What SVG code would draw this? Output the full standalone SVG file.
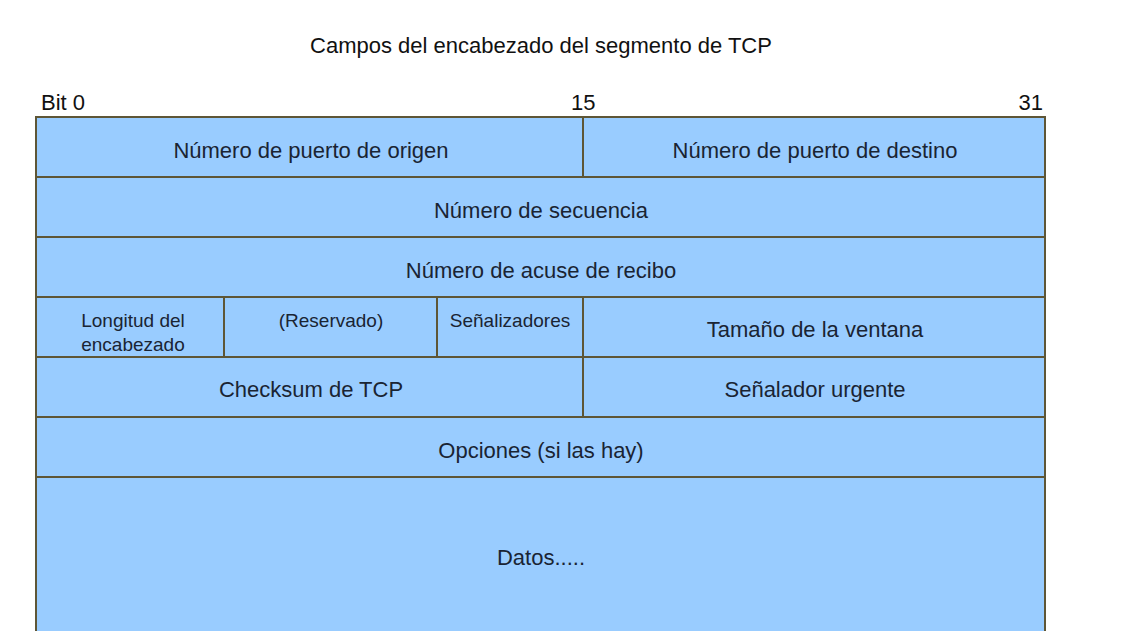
<svg xmlns="http://www.w3.org/2000/svg" width="1128" height="631" viewBox="0 0 1128 631">
<style>
.c{fill:#99ccff;stroke:#5e5636;stroke-width:2}
.t{font-family:"Liberation Sans",Arial,sans-serif;font-size:22px;fill:#1a2433;text-anchor:middle}
.s{font-family:"Liberation Sans",Arial,sans-serif;font-size:19px;fill:#1a2433;text-anchor:middle}
.h{font-family:"Liberation Sans",Arial,sans-serif;font-size:22px;fill:#111}
</style>
<rect width="1128" height="631" fill="#fff"/>
<text class="h" x="541" y="53" text-anchor="middle">Campos del encabezado del segmento de TCP</text>
<text class="h" x="41" y="110">Bit 0</text>
<text class="h" x="571" y="110">15</text>
<text class="h" x="1043" y="110" text-anchor="end">31</text>
<g id="src"><rect class="c" x="36" y="117" width="547" height="60"/><text class="t" x="311" y="158">Número de puerto de origen</text></g>
<g id="dst"><rect class="c" x="583" y="117" width="462" height="60"/><text class="t" x="815" y="158">Número de puerto de destino</text></g>
<g id="seq"><rect class="c" x="36" y="177" width="1009" height="60"/><text class="t" x="541" y="218">Número de secuencia</text></g>
<g id="ack"><rect class="c" x="36" y="237" width="1009" height="60"/><text class="t" x="541" y="278">Número de acuse de recibo</text></g>
<g id="hlen"><rect class="c" x="36" y="297" width="188" height="60"/><text class="s" x="133" y="327">Longitud del</text><text class="s" x="133" y="351">encabezado</text></g>
<g id="res"><rect class="c" x="224" y="297" width="213" height="60"/><text class="s" x="331" y="327">(Reservado)</text></g>
<g id="flags"><rect class="c" x="437" y="297" width="146" height="60"/><text class="s" x="510" y="327">Señalizadores</text></g>
<g id="win"><rect class="c" x="583" y="297" width="462" height="60"/><text class="t" x="815" y="337">Tamaño de la ventana</text></g>
<g id="chk"><rect class="c" x="36" y="357" width="547" height="60"/><text class="t" x="311" y="397">Checksum de TCP</text></g>
<g id="urg"><rect class="c" x="583" y="357" width="462" height="60"/><text class="t" x="815" y="397">Señalador urgente</text></g>
<g id="opt"><rect class="c" x="36" y="417" width="1009" height="60"/><text class="t" x="541" y="458">Opciones (si las hay)</text></g>
<g id="data"><rect class="c" x="36" y="477" width="1009" height="170"/><text class="t" x="541" y="565">Datos.....</text></g>
<g id="connectors"></g>
</svg>
